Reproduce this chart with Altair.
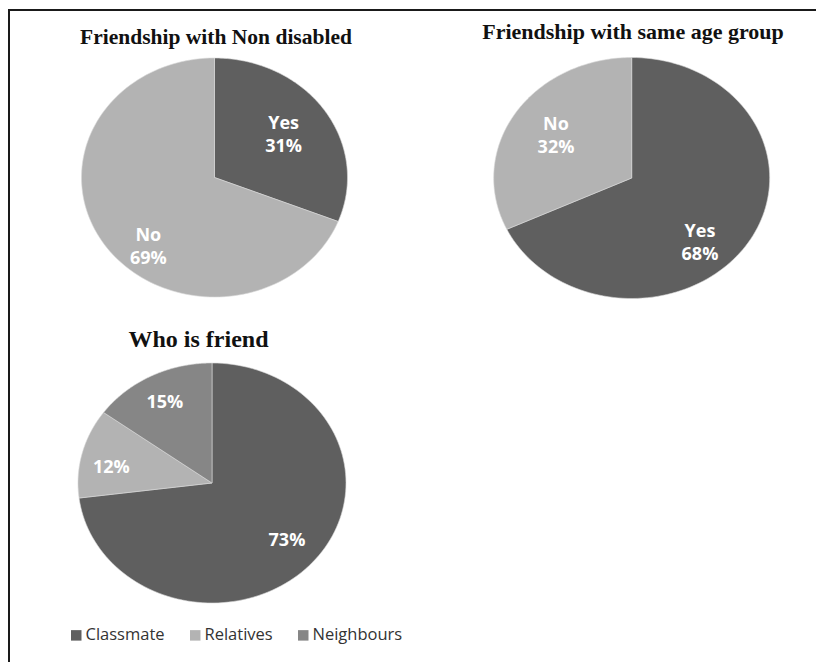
import altair as alt
import pandas as pd

# ---------------- data ----------------
pie_titles = ["Friendship with Non disabled", "Friendship with same age group", "Who is friend"]
pie1_categories = ["Yes", "No"]
pie1_values = [31, 69]
pie2_categories = ["Yes", "No"]
pie2_values = [68, 32]
pie3_categories = ["Classmate", "Relatives", "Neighbours"]
pie3_values = [73, 12, 15]
legend_categories = ["Classmate", "Relatives", "Neighbours"]

# ---------------- layout / style ----------------
W, H = 808, 654
pie_geometry = [  # centre x, centre y, radius x, radius y (chart pixels)
    (206.5, 169.5, 133, 119.5),
    (623.7, 170, 138, 120.5),
    (204, 475, 134, 120),
]
label_radius = [[0.684, 0.696], [0.670, 0.701], [0.739, 0.761, 0.751]]
label_shift_deg = [[-6.4, -10.2], [10.0, 6.1], [-0.6, -5.1, -0.9]]
title_layout = [(208, 36, 21.5), (625, 31, 22), (190.5, 338.5, 24)]
cat_colors = {
    "Yes": "#5f5f5f", "No": "#b3b3b3",
    "Classmate": "#5f5f5f", "Relatives": "#b3b3b3", "Neighbours": "#868686",
}

pies = [(pie1_categories, pie1_values), (pie2_categories, pie2_values), (pie3_categories, pie3_values)]
rows = []
for p, (cats, vals) in enumerate(pies):
    cx, cy, rx, ry = pie_geometry[p]
    for i, (c, v) in enumerate(zip(cats, vals)):
        rows.append(dict(
            pie=p, cat=c, value=v, order=i, slice=f"{p}-{c}",
            cx=cx, cy=cy, rx=rx, ry=ry,
            lr=label_radius[p][i], lsh=label_shift_deg[p][i],
            label=(f"{v}%" if p == 2 else f"{c}\n{v}%"),
        ))
df = pd.DataFrame(rows)

titles_df = pd.DataFrame({
    "title": pie_titles,
    "tx": [t[0] for t in title_layout],
    "ty": [t[1] for t in title_layout],
    "fs": [t[2] for t in title_layout],
})

xs = alt.Scale(domain=[0, W], nice=False, zero=False)
ys = alt.Scale(domain=[0, H], reverse=True, nice=False, zero=False)
fill_scale = alt.Scale(domain=list(cat_colors.keys()), range=list(cat_colors.values()))
legend_scale = alt.Scale(domain=legend_categories, range=[cat_colors[c] for c in legend_categories])

base = alt.Chart(df).transform_joinaggregate(
    total="sum(value)", groupby=["pie"]
).transform_window(
    cum="sum(value)", groupby=["pie"], sort=[alt.SortField("order")], frame=[None, 0]
).transform_calculate(
    a0="2*PI*(datum.cum - datum.value)/datum.total",
    a1="2*PI*datum.cum/datum.total",
)

slices = base.transform_calculate(
    k="sequence(0, 122)"
).transform_flatten(["k"]).transform_calculate(
    ang="datum.a0 + (datum.a1 - datum.a0) * max(datum.k - 1, 0) / 120",
    px="datum.k == 0 ? datum.cx : datum.cx + datum.rx * sin(datum.ang)",
    py="datum.k == 0 ? datum.cy : datum.cy - datum.ry * cos(datum.ang)",
).mark_line(interpolate="linear-closed", stroke="#d9d9d9", strokeWidth=0.6).encode(
    x=alt.X("px:Q", scale=xs, axis=None),
    y=alt.Y("py:Q", scale=ys, axis=None),
    detail="slice:N",
    order="k:Q",
    fill=alt.Fill("cat:N", scale=fill_scale, legend=None),
)

labels = base.transform_calculate(
    mid="(datum.a0 + datum.a1)/2 + datum.lsh*PI/180",
    lx="datum.cx + datum.rx * datum.lr * sin(datum.mid)",
    ly="datum.cy - datum.ry * datum.lr * cos(datum.mid)",
).mark_text(
    font="Open Sans", fontWeight="bold", fontSize=18, color="white",
    lineBreak="\n", lineHeight=23, align="center", baseline="middle",
).encode(
    x=alt.X("lx:Q", scale=xs, axis=None),
    y=alt.Y("ly:Q", scale=ys, axis=None),
    text="label:N",
)

titles = alt.Chart(titles_df).mark_text(
    font="Liberation Serif", fontWeight="bold", color="#111111",
    align="center", baseline="alphabetic",
).encode(
    x=alt.X("tx:Q", scale=xs, axis=None),
    y=alt.Y("ty:Q", scale=ys, axis=None),
    size=alt.Size("fs:Q", scale=None),
    text="title:N",
)

legend_layer = alt.Chart(pd.DataFrame({"cat": legend_categories})).transform_filter(
    "false"
).mark_square(size=100, opacity=1, filled=True).encode(
    color=alt.Color(
        "cat:N", scale=legend_scale, sort=legend_categories,
        legend=alt.Legend(
            orient="none", legendX=60, legendY=619, direction="horizontal",
            title=None, symbolType="square", symbolSize=110, symbolStrokeWidth=0,
            symbolOpacity=1,
            labelFont="Open Sans", labelFontSize=16.5, labelColor="#333333",
            labelOffset=1, columnPadding=22, padding=0,
        ),
    ),
)

frame_top = alt.Chart(titles_df).mark_rule(color="#1a1a1a", strokeWidth=2).encode(
    x=alt.value(0), x2=alt.value(W), y=alt.value(2)
)
frame_left = alt.Chart(titles_df).mark_rule(color="#1a1a1a", strokeWidth=2).encode(
    x=alt.value(1), y=alt.value(1), y2=alt.value(H)
)

chart = alt.layer(
    slices, labels, titles, legend_layer, frame_top, frame_left
).properties(
    width=W, height=H, autosize=alt.AutoSizeParams(type="none"), padding=0,
).configure_view(stroke="transparent", strokeWidth=0)

chart.save("out.html", embed_options={"renderer": "svg", "actions": False})
